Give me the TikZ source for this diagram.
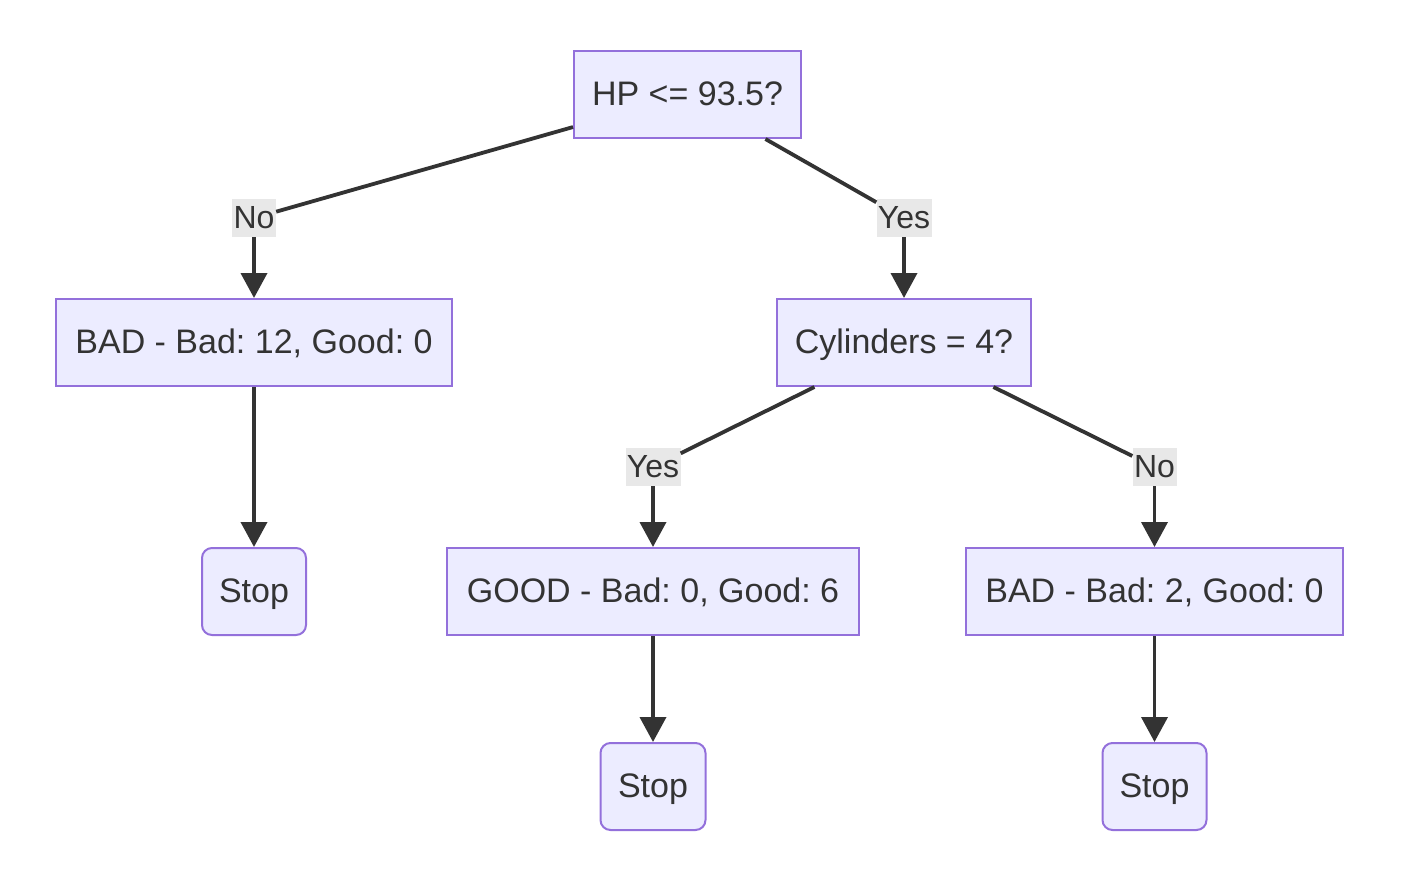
\documentclass[tikz,border=0pt]{standalone}
\usepackage{fontspec}
\setmainfont{Liberation Sans}
\usetikzlibrary{arrows.meta}
\frenchspacing
\definecolor{boxfill}{HTML}{ECECFF}
\definecolor{boxborder}{HTML}{9370DB}
\definecolor{lnc}{HTML}{333333}
\definecolor{lblfill}{HTML}{E8E8E8}
\tikzset{
  box/.style={draw=boxborder, fill=boxfill, line width=2pt, minimum height=87pt, inner sep=0pt, text height=24.5pt, text depth=2.5pt, text=lnc, font=\fontsize{34}{40}\selectfont},
  stopbox/.style={box, rounded corners=10pt},
  lbl/.style={fill=lblfill, inner sep=0pt, minimum height=38pt, text height=23pt, text depth=2pt, text=lnc, font=\fontsize{32}{38}\selectfont},
  edge/.style={draw=lnc, line width=3.8pt},
  arr/.style={edge, -{Triangle[width=26pt,length=25pt]}}
}
\begin{document}
\begin{tikzpicture}[x=1pt,y=-1pt]
\useasboundingbox (0,0) rectangle (1422,884);
\node[box, minimum width=227pt] (hp) at (687.5,94.5) {HP <= 93.5?};
\node[box, minimum width=396pt] (bad12) at (254,342.5) {BAD - Bad: 12, Good: 0};
\node[box, minimum width=254pt] (cyl) at (904,342.5) {Cylinders = 4?};
\node[stopbox, minimum width=104pt] (stop1) at (254,591.5) {Stop};
\node[box, minimum width=412pt] (good) at (653,591.5) {GOOD - Bad: 0, Good: 6};
\node[box, minimum width=377pt] (bad2) at (1154.5,591.5) {BAD - Bad: 2, Good: 0};
\node[stopbox, minimum width=105pt] (stop2) at (653,786.5) {Stop};
\node[stopbox, minimum width=104pt] (stop3) at (1154.5,786.5) {Stop};
\node[lbl, minimum width=44pt] (lno1) at (254,218) {No};
\node[lbl, minimum width=55pt] (lyes1) at (904,218) {Yes};
\node[lbl, minimum width=55pt] (lyes2) at (653,467) {Yes};
\node[lbl, minimum width=44pt] (lno2) at (1154.5,467) {No};
\draw[edge] (hp) -- (lno1);
\draw[arr] (lno1) -- (bad12);
\draw[edge] (hp) -- (lyes1);
\draw[arr] (lyes1) -- (cyl);
\draw[edge] (cyl) -- (lyes2);
\draw[arr] (lyes2) -- (good);
\draw[edge] (cyl) -- (lno2);
\draw[arr] (lno2) -- (bad2);
\draw[arr] (bad12) -- (stop1);
\draw[arr] (good) -- (stop2);
\draw[arr] (bad2) -- (stop3);
\end{tikzpicture}
\end{document}
